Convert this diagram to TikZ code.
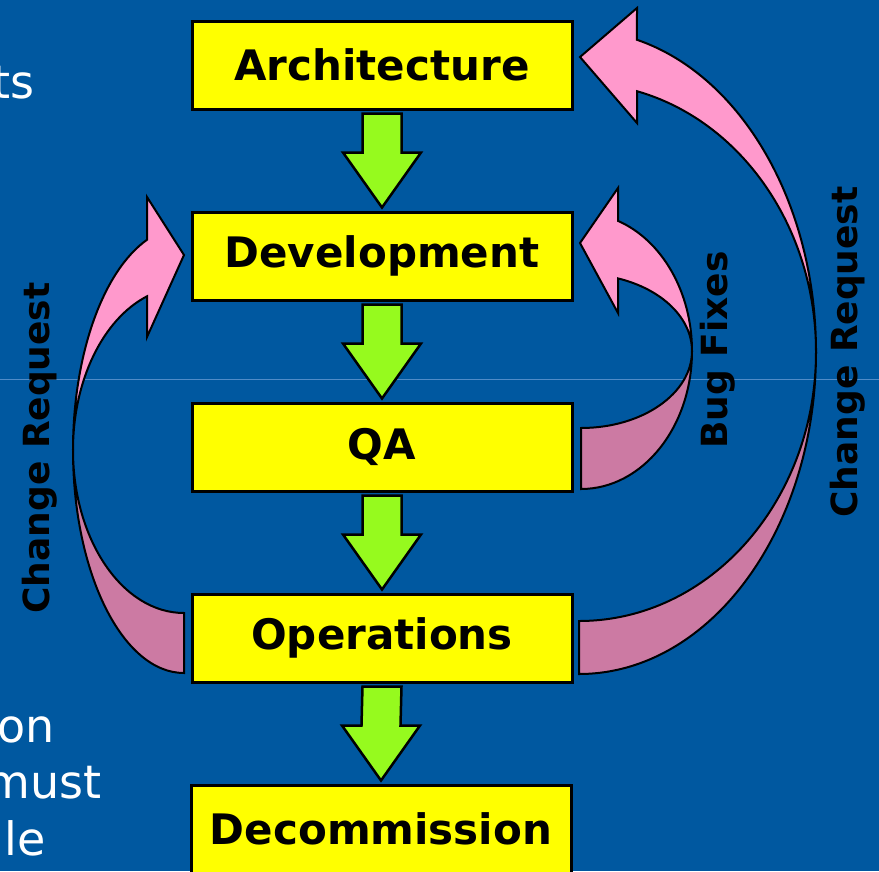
\documentclass[tikz,border=0pt]{standalone}
\usepackage{fontspec}
\setmainfont{DejaVu Sans}
\usepackage{tikz}
\usetikzlibrary{calc}
\definecolor{slideblue}{RGB}{0,88,160}
\definecolor{ruleblue}{RGB}{80,140,200}
\definecolor{stageyellow}{RGB}{255,255,0}
\definecolor{flowgreen}{RGB}{150,250,30}
\definecolor{loopfront}{RGB}{255,153,204}
\definecolor{loopback}{RGB}{204,122,163}
\tikzstyle{stage} = [rectangle, draw=black, line width=3pt, fill=stageyellow, minimum width=380pt, minimum height=88pt, text centered, font=\fontsize{42}{50}\selectfont\bfseries]
\tikzstyle{flowarrow} = [draw=black, line width=2.5pt, fill=flowgreen]
\tikzstyle{loopfill} = [draw=black, line width=2pt, fill=loopfront]
\tikzstyle{loopshade} = [draw=black, line width=2pt, fill=loopback]
\tikzstyle{looplabel} = [rotate=90, font=\fontsize{36}{40}\selectfont\bfseries, text=black]
\tikzstyle{slidetext} = [anchor=base east, text=white, font=\fontsize{46}{56}\selectfont, inner sep=0pt]
% block arrow from one stage down to the next
\newcommand{\flowdown}[2]{%
    \draw[flowarrow] ($(#1.south)+(-19.5,-3)$) -- ($(#1.south)+(19.5,-3)$) -- ($(#2.north)+(19.5,58)$)
        -- ($(#2.north)+(39,58)$) -- ($(#2.north)+(0,3)$) -- ($(#2.north)+(-39,58)$)
        -- ($(#2.north)+(-19.5,58)$) -- cycle;}

\begin{document}
\begin{tikzpicture}[x=1pt, y=1pt]
    \useasboundingbox (0,0) rectangle (879,-871);
    \clip (0,0) rectangle (879,-871);
    \fill[slideblue] (0,0) rectangle (879,-871);
    \draw[ruleblue, line width=1pt] (0,-379) -- (879,-379);

    % Slide text cut off at the left
    \node[slidetext] (txtA) at (35,-98) {ts};
    \node[slidetext] (txtB) at (55,-742) {on};
    \node[slidetext] (txtC) at (102,-798) {must};
    \node[slidetext] (txtD) at (46,-855) {le};

    % Stages
    \node[stage] (arch) at (382,-65) {Architecture};
    \node[stage] (dev) at (382,-256) {Development};
    \node[stage] (qa) at (382,-447) {QA};
    \node[stage] (ops) at (382,-638) {Operations};
    \node[stage] (decom) at (381,-829) {Decommission};

    % Flow between stages
    \foreach \a/\b in {arch/dev, dev/qa, qa/ops, ops/decom}
        \flowdown{\a}{\b};

    % Change request: Operations -> Development
    \draw[loopshade] (184,-613) arc[start angle=270, end angle=180, x radius=111pt, y radius=163pt]
        arc[start angle=180, end angle=270, x radius=111pt, y radius=223pt] -- cycle;
    \draw[loopfill] (73,-450) arc[start angle=180, end angle=109.47, x radius=111pt, y radius=223pt]
        -- (147,-197) -- (184,-255) -- (147,-337) -- (147,-296.3)
        arc[start angle=109.47, end angle=180, x radius=111pt, y radius=163pt] -- cycle;

    % Bug fixes: QA -> Development
    \draw[loopshade] (581,-428) arc[start angle=-90, end angle=0, x radius=111pt, y radius=77pt]
        arc[start angle=0, end angle=-90, x radius=111pt, y radius=138pt] -- cycle;
    \draw[loopfill] (692,-351) arc[start angle=0, end angle=70.53, x radius=111pt, y radius=138pt]
        -- (618,-188) -- (580,-243) -- (618,-313) -- (618,-278.4)
        arc[start angle=70.53, end angle=0, x radius=111pt, y radius=77pt] -- cycle;

    % Change request: Operations -> Architecture
    \draw[loopshade] (579,-621) arc[start angle=-90, end angle=0, x radius=237pt, y radius=269pt]
        arc[start angle=0, end angle=-90, x radius=237pt, y radius=322pt] -- cycle;
    \draw[loopfill] (816,-352) arc[start angle=0, end angle=75.84, x radius=237pt, y radius=322pt]
        -- (637,-8) -- (580,-57) -- (637,-123) -- (637,-91.2)
        arc[start angle=75.84, end angle=0, x radius=237pt, y radius=269pt] -- cycle;

    % Labels
    \node[looplabel] (crleft) at (40,-448) {Change Request};
    \node[looplabel] (bugfix) at (718,-350) {Bug Fixes};
    \node[looplabel] (crright) at (848,-352) {Change Request};
\end{tikzpicture}
\end{document}
